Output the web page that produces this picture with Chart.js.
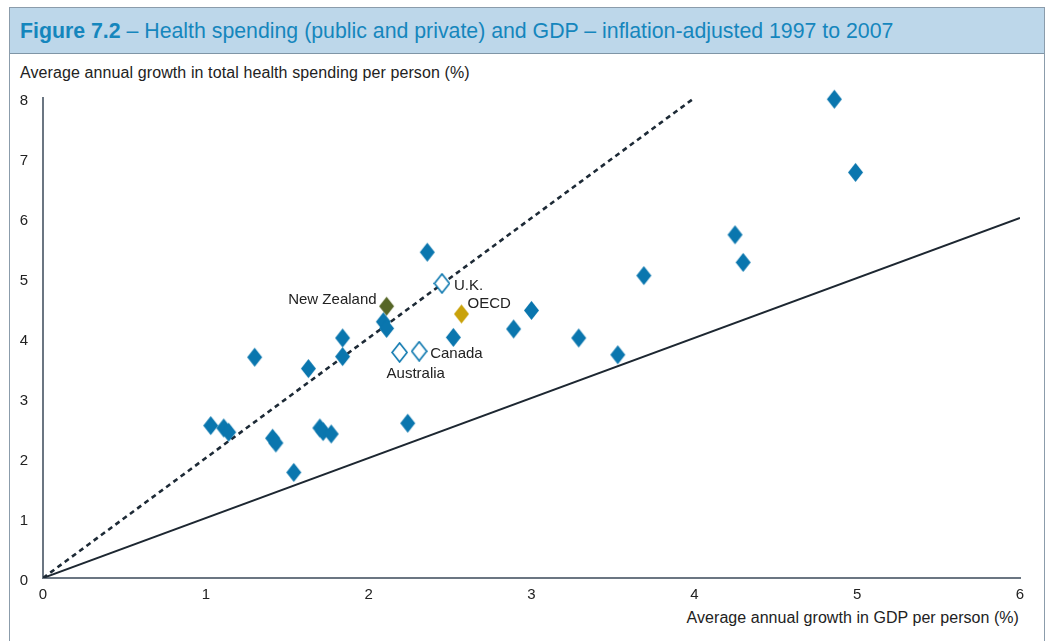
<!DOCTYPE html>
<html>
<head>
<meta charset="utf-8">
<script src="https://cdn.jsdelivr.net/npm/chart.js@4"></script>
<style>
  body { margin: 0; background: #fff; font-family: "Liberation Sans", Arial, sans-serif; }
  #frame { position: absolute; left: 9px; top: 7px; width: 1034px; height: 700px; border: 1px solid #8b9cab; }
  #title { height: 45px; background: #bdd7ea; border-bottom: 1px solid #7f95a6; color: #1586bd;
           font-size: 21.3px; line-height: 46px; padding-left: 10px; white-space: nowrap; }
  #title b { font-weight: bold; }
  #ytitle { position: absolute; left: 20px; top: 64px; font-size: 16px; letter-spacing: 0.1px; color: #222; white-space: nowrap; }
  #xtitle { position: absolute; right: 26px; top: 609px; font-size: 16px; letter-spacing: 0.05px; color: #222; white-space: nowrap; }
  #wrap { position: absolute; left: 0; top: 0; width: 1045px; height: 641px; }
</style>
</head>
<body>
<div id="frame"><div id="title"><b>Figure 7.2</b> – Health spending (public and private) and GDP – inflation-adjusted 1997 to 2007</div></div>
<div id="ytitle">Average annual growth in total health spending per person (%)</div>
<div id="xtitle">Average annual growth in GDP per person (%)</div>
<div id="wrap"><canvas id="chart"></canvas></div>
<script>
// other OECD countries (GDP growth, health spending growth)
var countryX = [4.86, 4.99, 4.25, 4.30, 3.69, 2.36, 3.00, 2.89, 3.29, 3.53, 2.52, 2.09, 2.11, 1.84, 1.84, 1.63, 1.30,
                1.03, 1.11, 1.14, 1.41, 1.43, 1.70, 1.72, 1.77, 1.54, 2.24];
var countryY = [7.98, 6.76, 5.72, 5.26, 5.04, 5.43, 4.46, 4.15, 4.00, 3.72, 4.01, 4.27, 4.16, 4.00, 3.69, 3.49, 3.68,
                2.54, 2.50, 2.43, 2.33, 2.25, 2.50, 2.44, 2.40, 1.76, 2.58];

var nzX = [2.11], nzY = [4.53];
var oecdX = [2.57], oecdY = [4.40];
var compareNames = ['U.K.', 'Australia', 'Canada'];
var compareX = [2.45, 2.19, 2.31];
var compareY = [4.91, 3.76, 3.78];

// reference lines: health growth = 2x GDP growth, and = GDP growth
var lineX = [0, 4, 6];
var doubleY = [0, 8];
var equalY = [0, 6];

function pts(xs, ys) {
    return xs.map(function(x, i) { return {x: x, y: ys[i]}; });
}

function diamond(fill, stroke) {
    var c = document.createElement('canvas');
    c.width = 17; c.height = 21;
    var g = c.getContext('2d');
    g.beginPath();
    g.moveTo(8.5, 1); g.lineTo(16, 10.5); g.lineTo(8.5, 20); g.lineTo(1, 10.5); g.closePath();
    g.fillStyle = fill; g.fill();
    if (stroke) { g.lineWidth = 1.6; g.strokeStyle = stroke; g.stroke(); }
    return c;
}

var blue = '#0a76ae';
var font = '"Liberation Sans", Arial, sans-serif';

// text labels beside the named markers
var pointLabels = {
    id: 'pointLabels',
    afterDatasetsDraw: function(chart) {
        var ctx = chart.ctx;
        ctx.save();
        ctx.font = '15px ' + font;
        ctx.fillStyle = '#222';
        ctx.textBaseline = 'middle';
        var nz = chart.getDatasetMeta(1).data[0];
        ctx.textAlign = 'right';
        ctx.fillText('New Zealand', nz.x - 10, nz.y - 6);
        var oecd = chart.getDatasetMeta(2).data[0];
        ctx.textAlign = 'left';
        ctx.fillText('OECD', oecd.x + 6, oecd.y - 10);
        var cmp = chart.getDatasetMeta(3).data;
        ctx.fillText(compareNames[0], cmp[0].x + 12, cmp[0].y + 2);
        ctx.fillText(compareNames[1], cmp[1].x - 13, cmp[1].y + 21);
        ctx.fillText(compareNames[2], cmp[2].x + 11, cmp[2].y + 3);
        ctx.restore();
    }
};

var ctx = document.getElementById('chart').getContext('2d');
var chart = new Chart(ctx, {
    type: 'scatter',
    data: {
        datasets: [
            {
                label: 'Countries',
                data: pts(countryX, countryY),
                pointStyle: diamond(blue),
                clip: false,
                order: 1
            },
            {
                label: 'New Zealand',
                data: pts(nzX, nzY),
                pointStyle: diamond('#566627'),
                order: 1
            },
            {
                label: 'OECD',
                data: pts(oecdX, oecdY),
                pointStyle: diamond('#c9a20b'),
                order: 1
            },
            {
                label: 'Comparison',
                data: pts(compareX, compareY),
                pointStyle: diamond('#fff', blue),
                order: 1
            },
            {
                type: 'line',
                label: 'Double',
                data: pts([lineX[0], lineX[1]], doubleY),
                borderColor: '#1d2a36',
                borderWidth: 2.6,
                borderDash: [5, 4],
                pointRadius: 0,
                fill: false,
                order: 2
            },
            {
                type: 'line',
                label: 'Equal',
                data: pts([lineX[0], lineX[2]], equalY),
                borderColor: '#1d2731',
                borderWidth: 2,
                pointRadius: 0,
                fill: false,
                order: 2
            }
        ]
    },
    options: {
        responsive: true,
        maintainAspectRatio: false,
        animation: false,
        layout: {
            padding: { left: 0, right: 25, top: 98, bottom: 33 }
        },
        plugins: {
            legend: { display: false },
            tooltip: { enabled: false }
        },
        scales: {
            x: {
                type: 'linear',
                min: 0, max: 6,
                grid: { display: false, drawTicks: false },
                border: { color: '#6b7682', width: 2 },
                ticks: { stepSize: 1, color: '#222', padding: 8, font: { size: 15, family: font } },
                afterFit: function(s) { s.height = 30; }
            },
            y: {
                type: 'linear',
                min: 0, max: 8,
                grid: { display: false, drawTicks: false },
                border: { color: '#6b7682', width: 2 },
                ticks: { stepSize: 1, color: '#222', padding: 15, labelOffset: 3, font: { size: 15, family: font } },
                afterFit: function(s) { s.width = 43; }
            }
        }
    },
    plugins: [pointLabels]
});
</script>
</body>
</html>
